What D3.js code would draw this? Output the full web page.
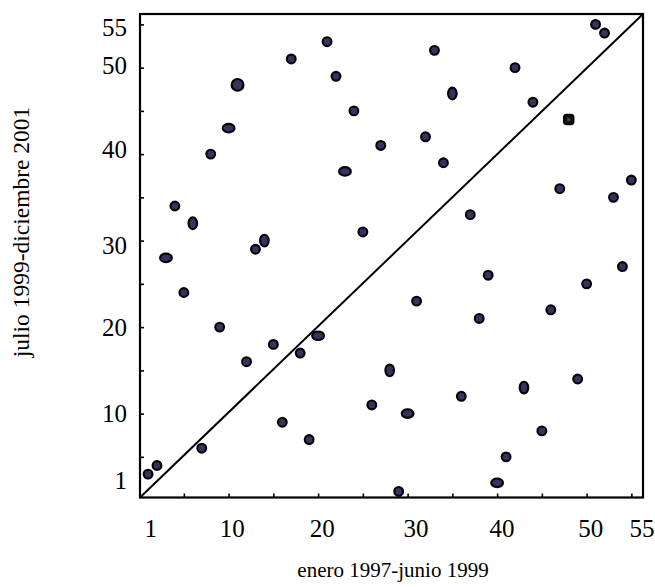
<!DOCTYPE html>
<html>
<head>
<meta charset="utf-8">
<script src="https://cdn.jsdelivr.net/npm/d3@7"></script>
<style>
  body { margin: 0; background: #fff; }
  text { font-family: "Liberation Serif", "Times New Roman", serif; fill: #000; }
</style>
</head>
<body>
<div id="chart-area"></div>
<script>
// rank in enero 1997-junio 1999 (x) vs rank in julio 1999-diciembre 2001 (y)
var xRank = [1, 2, 3, 4, 5, 6, 7, 8, 9, 10, 11, 12, 13, 14, 15, 16, 17, 18, 19, 20,
             21, 22, 23, 24, 25, 26, 27, 28, 29, 30, 31, 32, 33, 34, 35, 36, 37, 38, 39, 40,
             41, 42, 43, 44, 45, 46, 47, 48, 49, 50, 51, 52, 53, 54, 55];
var yRank = [3, 4, 28, 34, 24, 32, 6, 40, 20, 43, 48, 16, 29, 30, 18, 9, 51, 17, 7, 19,
             53, 49, 38, 45, 31, 11, 41, 15, 1, 10, 23, 42, 52, 39, 47, 12, 33, 21, 26, 2,
             5, 50, 13, 46, 8, 22, 36, 44, 14, 25, 55, 54, 35, 27, 37];
// marker variant as drawn: o normal, O big, h wide, v tall, s squarish
var markType = ["o", "o", "h", "o", "o", "v", "o", "o", "o", "h", "O", "o", "o", "v", "o", "o", "o", "o", "o", "h",
                "o", "o", "h", "o", "o", "o", "o", "v", "o", "h", "o", "o", "o", "o", "v", "o", "o", "o", "o", "h",
                "o", "o", "v", "o", "o", "o", "o", "s", "o", "o", "o", "o", "o", "o", "o"];

var tickVals = [5, 10, 15, 20, 25, 30, 35, 40, 45, 50, 55];
var xLabels = ["1", "10", "20", "30", "40", "50", "55"];
var xLabelAt = [1.3, 10.4, 20.45, 30.95, 40.55, 50.45, 56.2];
var yLabels = ["1", "10", "20", "30", "40", "50", "55"];
var yLabelAt = [2.3, 10, 20, 29.4, 40.5, 50.3, 54.6];

var data = xRank.map(function(d, i) {
    return { x: d, y: yRank[i], t: markType[i] };
});

var W = 655, H = 587;
var svg = d3.select("#chart-area")
    .append("svg")
    .attr("width", W)
    .attr("height", H);

var x = d3.scaleLinear().domain([0.1, 56.3]).range([140, 643]);
var y = d3.scaleLinear().domain([0.3, 56.2]).range([497.5, 14]);

// inward ticks
svg.append("g")
    .attr("transform", "translate(0," + y.range()[0] + ")")
    .call(d3.axisBottom(x).tickValues(tickVals).tickSize(-4).tickFormat(""))
    .call(g => g.select(".domain").remove())
    .selectAll("line").attr("stroke", "#000").attr("stroke-width", 1.6);

svg.append("g")
    .attr("transform", "translate(" + x.range()[0] + ",0)")
    .call(d3.axisLeft(y).tickValues(tickVals).tickSize(-4).tickFormat(""))
    .call(g => g.select(".domain").remove())
    .selectAll("line").attr("stroke", "#000").attr("stroke-width", 1.6);

// frame
svg.append("rect")
    .attr("x", x.range()[0])
    .attr("y", y.range()[1])
    .attr("width", x.range()[1] - x.range()[0])
    .attr("height", y.range()[0] - y.range()[1])
    .attr("fill", "none")
    .attr("stroke", "#000")
    .attr("stroke-width", 2.2);

// diagonal corner to corner
svg.append("line")
    .attr("x1", x(x.domain()[0])).attr("y1", y(y.domain()[0]))
    .attr("x2", x(x.domain()[1])).attr("y2", y(y.domain()[1]))
    .attr("stroke", "#000")
    .attr("stroke-width", 2);

var fillCol = "#3a3160";
var sizes = { o: [4.4, 4.4], O: [5.9, 5.9], h: [5.9, 4.3], v: [4.3, 5.9] };

svg.selectAll(".pt")
    .data(data.filter(d => d.t !== "s"))
    .enter()
    .append("ellipse")
    .attr("class", "pt")
    .attr("cx", d => x(d.x))
    .attr("cy", d => y(d.y))
    .attr("rx", d => sizes[d.t][0])
    .attr("ry", d => sizes[d.t][1])
    .attr("fill", fillCol)
    .attr("stroke", "#000")
    .attr("stroke-width", 2.1);

var sq = data.filter(d => d.t === "s");
svg.selectAll(".sq")
    .data(sq)
    .enter()
    .append("rect")
    .attr("class", "sq")
    .attr("x", d => x(d.x) - 5)
    .attr("y", d => y(d.y) - 5)
    .attr("width", 10)
    .attr("height", 10)
    .attr("rx", 3)
    .attr("fill", "#111")
    .attr("stroke", "#000")
    .attr("stroke-width", 1.5);
svg.selectAll(".sqdot")
    .data(sq)
    .enter()
    .append("rect")
    .attr("x", d => x(d.x) - 1.5)
    .attr("y", d => y(d.y) - 1.5)
    .attr("width", 3)
    .attr("height", 3)
    .attr("fill", "#4a3f80");

// tick labels
svg.selectAll(".xl")
    .data(xLabels)
    .enter()
    .append("text")
    .attr("x", (d, i) => x(xLabelAt[i]))
    .attr("y", 536.5)
    .attr("text-anchor", "middle")
    .style("font-size", "25px")
    .text(d => d);

svg.selectAll(".yl")
    .data(yLabels)
    .enter()
    .append("text")
    .attr("x", 127)
    .attr("y", (d, i) => y(yLabelAt[i]))
    .attr("dy", "0.34em")
    .attr("text-anchor", "end")
    .style("font-size", "25px")
    .text(d => d);

// axis titles
svg.append("text")
    .attr("x", 393)
    .attr("y", 577)
    .attr("text-anchor", "middle")
    .style("font-size", "21px")
    .text("enero 1997-junio 1999");

svg.append("text")
    .attr("transform", "translate(29,232) rotate(-90)")
    .attr("text-anchor", "middle")
    .style("font-size", "23.5px")
    .text("julio 1999-diciembre 2001");
</script>
</body>
</html>
